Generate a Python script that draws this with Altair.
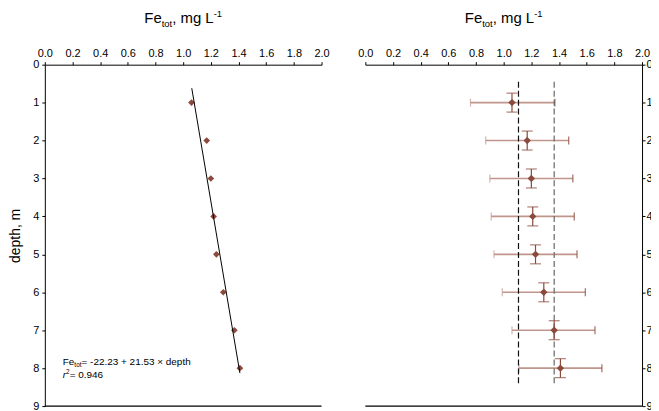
import altair as alt
import pandas as pd

# ---- data ----
depth = [1, 2, 3, 4, 5, 6, 7, 8]
fe_left = [1.06, 1.17, 1.20, 1.22, 1.24, 1.29, 1.37, 1.41]
reg_fe = [1.062, 1.410]
reg_depth = [0.62, 8.13]

fe_right = [1.06, 1.17, 1.20, 1.21, 1.23, 1.29, 1.365, 1.41]
fe_lo = [0.76, 0.87, 0.90, 0.91, 0.93, 0.99, 1.06, 1.11]
fe_hi = [1.37, 1.47, 1.50, 1.51, 1.53, 1.59, 1.66, 1.71]
depth_lo = [0.75, 1.75, 2.75, 3.75, 4.75, 5.75, 6.75, 7.75]
depth_hi = [1.25, 2.25, 3.25, 4.25, 5.25, 6.25, 7.25, 8.25]
dash_x = [1.107, 1.365]
dash_top = [0.45, 0.45]
dash_bot = [8.47, 8.47]
dash_color = ["#111111", "#666666"]

x_ticks = [0.0, 0.2, 0.4, 0.6, 0.8, 1.0, 1.2, 1.4, 1.6, 1.8, 2.0]
y_ticks = [0, 1, 2, 3, 4, 5, 6, 7, 8, 9]

BROWN = "#8b4a3c"
LIGHT = "#c0958b"
FONT = "Liberation Sans"
NB = "\u00a0"
W, H = 278, 343

df_left = pd.DataFrame({"fe": fe_left, "depth": depth})
df_reg = pd.DataFrame({"fe": reg_fe, "depth": reg_depth})
df_right = pd.DataFrame({"fe": fe_right, "lo": fe_lo, "hi": fe_hi,
                         "depth": depth, "dlo": depth_lo, "dhi": depth_hi})
df_dash = pd.DataFrame({"x": dash_x, "top": dash_top, "bot": dash_bot, "c": dash_color})
df_bottom = pd.DataFrame({"a": [0.0], "b": [2.0], "d": [9]})

# approximate Arial widths for composing sub/superscript texts
CW = {"F": 611, "e": 556, "t": 278, "o": 556, ",": 278, " ": 278, NB: 278, "m": 833,
      "g": 556, "L": 556, "-": 333, "=": 584, "+": 584, "×": 584, ".": 278, "d": 556,
      "p": 556, "h": 556, "r": 333}


def tw(s, size):
    return sum(CW.get(c, 556) for c in s) * size / 1000.0


def rich_text(parts, x0, y0, center=False):
    total = sum(tw(t, s) for t, s, _, _ in parts)
    x = x0 - total / 2 if center else x0
    layers = []
    for t, s, dy, style in parts:
        layers.append(
            alt.Chart(alt.Data(values=[{}])).mark_text(
                text=t, align="left", baseline="alphabetic", fontSize=s, font=FONT,
                color="black", fontStyle=style
            ).encode(x=alt.value(x), y=alt.value(y0 + dy))
        )
        x += tw(t, s)
    return layers


x_scale = alt.Scale(domain=[0, 2], nice=False, zero=False)
y_scale = alt.Scale(domain=[0, 9], reverse=True, nice=False, zero=False)

XAX = alt.Axis(orient="top", values=x_ticks, format=".1f", title=None, grid=False,
               tickSize=3, labelPadding=3, labelFlush=False, labelOverlap=False)
YAX_L = alt.Axis(orient="left", values=y_ticks, title="depth, m", grid=False,
                 tickSize=3, labelPadding=3, titlePadding=10, labelOverlap=False)
YAX_R = alt.Axis(orient="right", values=y_ticks, title=None, grid=False,
                 tickSize=3, labelPadding=1, labelOverlap=False)


def X(f):
    return alt.X(f, scale=x_scale, axis=XAX)


def YL(f):
    return alt.Y(f, scale=y_scale, axis=YAX_L)


def YR(f):
    return alt.Y(f, scale=y_scale, axis=YAX_R)


title_parts = [("Fe", 15, 0, "normal"), ("tot", 9.5, 4, "normal"),
               (", mg L", 15, 0, "normal"), ("-1", 9.5, -6, "normal")]

# ---- left panel ----
pts_l = alt.Chart(df_left).mark_point(shape="diamond", filled=True, size=45, color=BROWN,
                                      opacity=1).encode(x=X("fe:Q"), y=YL("depth:Q"))
reg = alt.Chart(df_reg).mark_line(color="black", strokeWidth=1).encode(
    x=X("fe:Q"), y=YL("depth:Q"))
bot_l = alt.Chart(df_bottom).mark_rule(color="black", strokeWidth=1.2).encode(
    x=X("a:Q"), x2="b:Q", y=YL("d:Q"))

ann = rich_text([("Fe", 10, 0, "normal"), ("tot", 6.5, 2, "normal"),
                 (NB + NB + "= -22.23 + 21.53 × depth", 10, 0, "normal")], 18, 302)
ann += rich_text([("r", 10, 0, "italic"), ("2", 6.5, -4, "normal"),
                  (NB + NB + "= 0.946", 10, 0, "normal")], 18, 315)

left = alt.layer(pts_l, reg, bot_l, *rich_text(title_parts, W / 2, -42, center=True), *ann
                 ).properties(width=W, height=H)

# ---- right panel ----
hbar = alt.Chart(df_right).mark_rule(color=LIGHT, strokeWidth=1.6).encode(
    x=X("lo:Q"), x2="hi:Q", y=YR("depth:Q"))
hcap_lo = alt.Chart(df_right).mark_tick(color=LIGHT, orient="vertical", size=8,
                                        thickness=1.2).encode(x=X("lo:Q"), y=YR("depth:Q"))
hcap_hi = alt.Chart(df_right).mark_tick(color=BROWN, orient="vertical", size=8,
                                        thickness=1.2, opacity=0.8).encode(
    x=X("hi:Q"), y=YR("depth:Q"))
vbar = alt.Chart(df_right).mark_rule(color=BROWN, strokeWidth=1.2).encode(
    x=X("fe:Q"), y=YR("dlo:Q"), y2="dhi:Q")
vcap_lo = alt.Chart(df_right).mark_tick(color=BROWN, orient="horizontal", size=11,
                                        thickness=1.2).encode(x=X("fe:Q"), y=YR("dlo:Q"))
vcap_hi = alt.Chart(df_right).mark_tick(color=BROWN, orient="horizontal", size=11,
                                        thickness=1.2).encode(x=X("fe:Q"), y=YR("dhi:Q"))
dash = alt.Chart(df_dash).mark_rule(strokeWidth=1.2, strokeDash=[6, 3]).encode(
    x=X("x:Q"), y=YR("top:Q"), y2="bot:Q", color=alt.Color("c:N", scale=None))
pts_r = alt.Chart(df_right).mark_point(shape="diamond", filled=True, size=55, color=BROWN,
                                       opacity=1).encode(x=X("fe:Q"), y=YR("depth:Q"))
bot_r = alt.Chart(df_bottom).mark_rule(color="black", strokeWidth=1.2).encode(
    x=X("a:Q"), x2="b:Q", y=YR("d:Q"))

right = alt.layer(hbar, hcap_lo, hcap_hi, dash, vbar, vcap_lo, vcap_hi, pts_r, bot_r,
                  *rich_text(title_parts, W / 2, -42, center=True)
                  ).properties(width=W, height=H)

chart = alt.hconcat(left, right, spacing=44, bounds="flush").configure_view(
    stroke=None
).configure_axis(
    domainColor="black", tickColor="black", labelColor="black", titleColor="black",
    labelFont=FONT, titleFont=FONT, labelFontSize=11, titleFontSize=14,
    titleFontWeight="normal", domainWidth=1, tickWidth=1, labelOverlap=False
).properties(padding={"left": 0, "top": 0, "right": -2, "bottom": 0})

chart.save("out.html", embed_options={"renderer": "svg", "actions": False})
